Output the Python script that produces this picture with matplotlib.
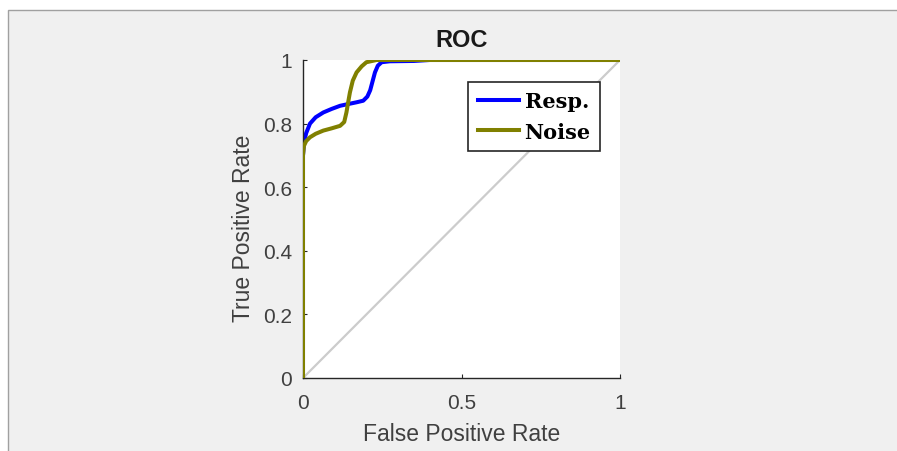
import matplotlib.pyplot as plt
from matplotlib.patches import Rectangle

# ROC points (false positive rate, true positive rate) for each detector
resp_fpr = [0, 0, 0.003, 0.01, 0.022, 0.04, 0.064, 0.09, 0.117, 0.145, 0.169, 0.19,
            0.203, 0.212, 0.22, 0.227, 0.236, 0.248, 0.274, 0.35, 0.4, 1.0]
resp_tpr = [0, 0.70, 0.74, 0.77, 0.80, 0.82, 0.835, 0.846, 0.856, 0.862, 0.867, 0.872,
            0.885, 0.905, 0.935, 0.961, 0.982, 0.993, 0.996, 0.997, 1.0, 1.0]

noise_fpr = [0, 0, 0.003, 0.01, 0.022, 0.04, 0.064, 0.09, 0.117, 0.13, 0.137, 0.143,
             0.148, 0.157, 0.169, 0.185, 0.2, 0.232, 1.0]
noise_tpr = [0, 0.70, 0.73, 0.745, 0.757, 0.768, 0.778, 0.785, 0.793, 0.805, 0.835, 0.87,
             0.898, 0.935, 0.961, 0.98, 0.993, 1.0, 1.0]

chance = [0, 1]
ticks = [0, 0.5, 1]
yticks = [0, 0.2, 0.4, 0.6, 0.8, 1]

plt.rcParams['font.family'] = ['Liberation Sans', 'DejaVu Sans']

fig = plt.figure(figsize=(8.97, 4.52), dpi=100, facecolor='white')
# grey window panel with a thin border on top and left
fig.add_artist(Rectangle((7.5 / 897, -0.1), 1.2, (452 - 10.5) / 452 + 0.1,
                         transform=fig.transFigure, facecolor='#f0f0f0',
                         edgecolor='#a0a0a0', linewidth=1, zorder=-5))

ax = fig.add_axes([303 / 897, 1 - 379 / 452, 317 / 897, 318 / 452])
ax.set_facecolor('white')

ax.plot(chance, chance, color='#cccccc', linewidth=1.6, zorder=1)
ax.plot(resp_fpr, resp_tpr, color='#0000ff', linewidth=2.9, label='Resp.', zorder=2)
ax.plot(noise_fpr, noise_tpr, color='#808000', linewidth=2.9, label='Noise', zorder=3)

ax.set_xlim(0, 1)
ax.set_ylim(0, 1)
ax.set_xticks(ticks)
ax.set_xticklabels(['0', '0.5', '1'])
ax.set_yticks(yticks)
ax.set_yticklabels(['0', '0.2', '0.4', '0.6', '0.8', '1'])

for side in ['top', 'right']:
    ax.spines[side].set_visible(False)
for side in ['left', 'bottom']:
    ax.spines[side].set_color('#262626')
    ax.spines[side].set_linewidth(1.0)

ax.tick_params(direction='in', length=3, width=0.8, colors='#262626',
               labelcolor='#404040', labelsize=15)
ax.tick_params(axis='x', pad=11)
ax.tick_params(axis='y', pad=8)

ax.set_xlabel('False Positive Rate', fontsize=16.5, color='#404040')
ax.set_ylabel('True Positive Rate', fontsize=16.5, color='#404040')
ax.xaxis.set_label_coords(0.5, -0.138)
ax.yaxis.set_label_coords(-0.15, 0.475)
ax.set_title('ROC', fontsize=17, fontweight='bold', color='#1a1a1a', pad=10)

leg = ax.legend(loc='upper right', bbox_to_anchor=(0.937, 0.931),
                prop={'family': 'DejaVu Serif', 'weight': 'bold', 'size': 15},
                frameon=True, fancybox=False, edgecolor='#262626',
                handlelength=2.0, handletextpad=0.25, labelspacing=0.5,
                borderpad=0.45, borderaxespad=0)
leg.get_frame().set_linewidth(1.2)
leg.get_frame().set_alpha(1)

fig.savefig('out.png', dpi=100, facecolor=fig.get_facecolor())
